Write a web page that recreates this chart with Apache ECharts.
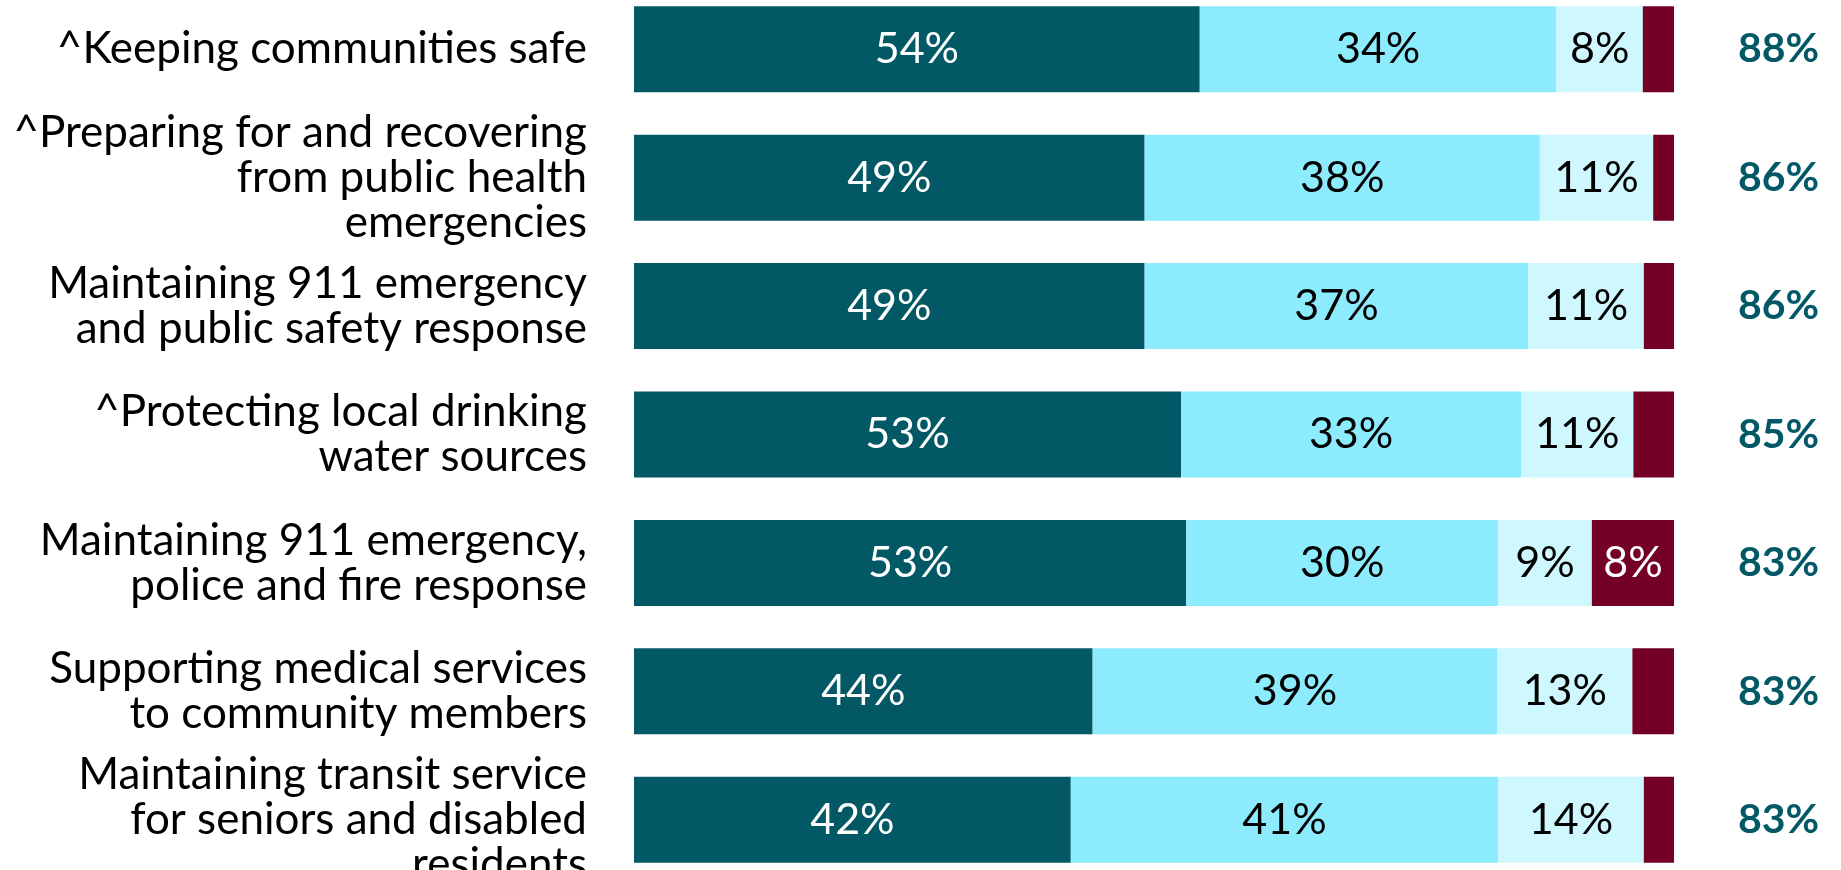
<!DOCTYPE html>
<html><head><meta charset="utf-8">
<script src="https://cdn.jsdelivr.net/npm/echarts@6/dist/echarts.min.js"></script>
<style>html,body{margin:0;padding:0;background:#fff}#c{width:1841px;height:870px}</style>
</head><body><div id="c"></div>
<script>
const categories = [
  "^Keeping communities safe",
  "^Preparing for and recovering\nfrom public health\nemergencies",
  "Maintaining 911 emergency\nand public safety response",
  "^Protecting local drinking\nwater sources",
  "Maintaining 911 emergency,\npolice and fire response",
  "Supporting medical services\nto community members",
  "Maintaining transit service\nfor seniors and disabled\nresidents"
];
const extremely = [54.4, 49.1, 49.1, 52.6, 53.1, 44.1, 42.0];
const very      = [34.3, 38.0, 36.9, 32.7, 30.0, 38.9, 41.1];
const somewhat  = [8.3, 10.9, 11.1, 10.8, 9.0, 13.0, 14.0];
const notImp    = [3.0, 2.0, 2.9, 3.9, 7.9, 4.0, 2.9];
const totals    = [88, 86, 86, 85, 83, 83, 83];

const FONT = 'Lato';
function seg(name, data, color, textColor) {
  return {
    name, type: 'bar', stack: 'a', data, barWidth: 86,
    itemStyle: { color },
    label: {
      show: true, position: 'inside', color: textColor,
      fontFamily: FONT, fontSize: 43,
      formatter: p => p.value >= 5 ? Math.round(p.value) + '%' : ''
    }
  };
}
const chart = echarts.init(document.getElementById('c'));
chart.setOption({
  animation: false,
  grid: { left: 634, right: 167, top: -15, height: 899, containLabel: false, outerBoundsMode: 'none' },
  xAxis: { type: 'value', min: 0, max: 100, show: false },
  yAxis: [
    { type: 'category', data: categories, inverse: true,
      axisLine: { show: false }, axisTick: { show: false },
      axisLabel: { margin: 47, fontFamily: FONT, fontSize: 44, color: '#000', lineHeight: 45, align: 'right' } },
    { type: 'category', data: totals.map(v => v + '%'), inverse: true, position: 'right',
      axisLine: { show: false }, axisTick: { show: false },
      axisLabel: { margin: 64, fontFamily: FONT, fontSize: 41, fontWeight: 'bold', color: '#025965', align: 'left' } }
  ],
  series: [
    seg('Extremely important', extremely, '#025965', '#fff'),
    seg('Very important', very, '#8cebfc', '#000'),
    seg('Somewhat important', somewhat, '#cff7fe', '#000'),
    seg('Not important', notImp, '#750026', '#fff')
  ]
});
</script></body></html>
